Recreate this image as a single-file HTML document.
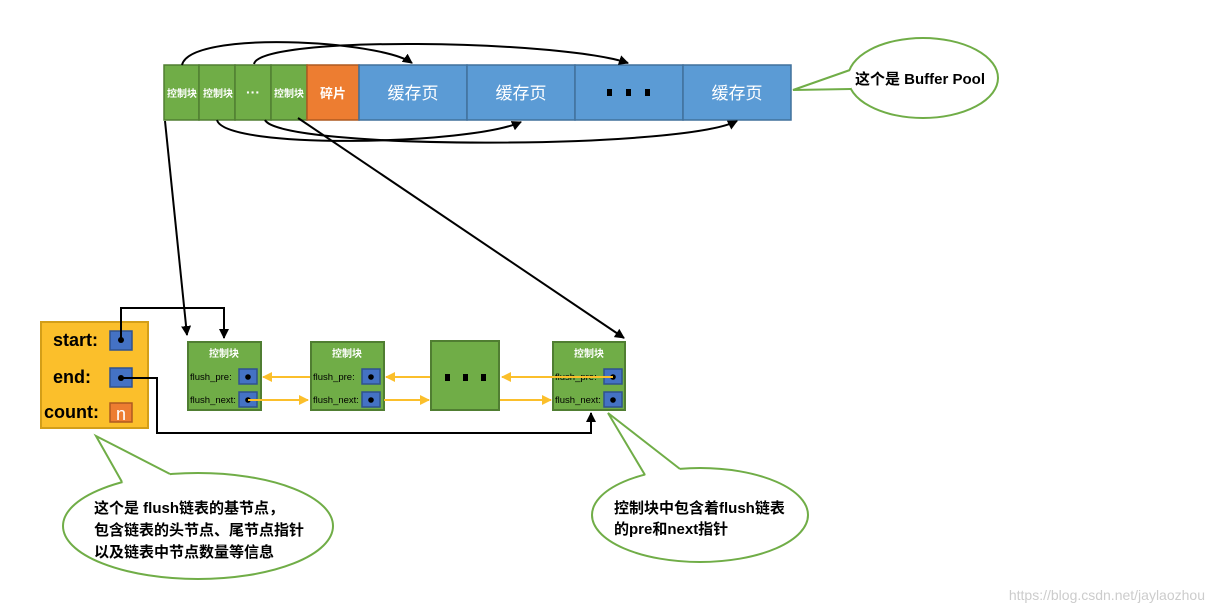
<!DOCTYPE html>
<html><head><meta charset="utf-8"><style>
body{margin:0;background:#fff;}
svg{display:block;font-family:"Liberation Sans","Noto Sans CJK SC",sans-serif;}
.w{fill:#fff;font-weight:bold;}
</style></head><body>
<svg width="1213" height="614" viewBox="0 0 1213 614" xmlns="http://www.w3.org/2000/svg">
<defs>
<marker id="ab" markerWidth="10" markerHeight="10" refX="9" refY="5" orient="auto" markerUnits="userSpaceOnUse"><path d="M0,0 L10,5 L0,10 z" fill="#000"/></marker>
<marker id="ay" markerWidth="10" markerHeight="10" refX="9" refY="5" orient="auto" markerUnits="userSpaceOnUse"><path d="M0,0 L10,5 L0,10 z" fill="#FBBF2B"/></marker>
</defs>
<!-- top bar -->
<g stroke="#41719C" stroke-width="1.5">
<rect x="164" y="65" width="35" height="55" fill="#70AD47" stroke="#507E32"/>
<rect x="199" y="65" width="36" height="55" fill="#70AD47" stroke="#507E32"/>
<rect x="235" y="65" width="36" height="55" fill="#70AD47" stroke="#507E32"/>
<rect x="271" y="65" width="36" height="55" fill="#70AD47" stroke="#507E32"/>
<rect x="307" y="65" width="52" height="55" fill="#ED7D31" stroke="#AE5A21"/>
<rect x="359" y="65" width="108" height="55" fill="#5B9BD5"/>
<rect x="467" y="65" width="108" height="55" fill="#5B9BD5"/>
<rect x="575" y="65" width="108" height="55" fill="#5B9BD5"/>
<rect x="683" y="65" width="108" height="55" fill="#5B9BD5"/>
</g>
<g class="w" font-size="10" text-anchor="middle">
<text x="182" y="97">控制块</text><text x="218" y="97">控制块</text>
<text x="253" y="97" font-size="14">···</text><text x="289" y="97">控制块</text>
</g>
<text x="333" y="98" class="w" font-size="13" text-anchor="middle">碎片</text>
<g fill="#fff" font-size="17" text-anchor="middle">
<text x="413" y="99">缓存页</text><text x="521" y="99">缓存页</text><text x="737" y="99">缓存页</text>
</g>
<g fill="#000"><rect x="607" y="89" width="5" height="7"/><rect x="626" y="89" width="5" height="7"/><rect x="645" y="89" width="5" height="7"/></g>
<!-- arcs -->
<g fill="none" stroke="#000" stroke-width="2">
<path d="M182,65 C190,30 380,40 412,63" marker-end="url(#ab)"/>
<path d="M254,64 C260,35 560,40 628,63" marker-end="url(#ab)"/>
<path d="M217,120 C225,150 470,145 521,122" marker-end="url(#ab)"/>
<path d="M265,120 C280,150 680,150 737,121" marker-end="url(#ab)"/>
<path d="M165,121 L187,335" marker-end="url(#ab)"/>
<path d="M298,118 L624,338" marker-end="url(#ab)"/>
</g>
<!-- buffer pool callout -->
<ellipse cx="923" cy="78" rx="75" ry="40" fill="#fff" stroke="#70AD47" stroke-width="2"/>
<polygon points="793,90 850,70 860,78 851,88" fill="#fff"/>
<path d="M850,70 L793,90 L851,89" fill="none" stroke="#70AD47" stroke-width="2"/>
<text x="920" y="84" font-size="15" font-weight="bold" text-anchor="middle">这个是 Buffer Pool</text>
<!-- base node -->
<rect x="41" y="322" width="107" height="106" fill="#FBBF2B" stroke="#D39E18" stroke-width="2"/>
<g font-size="18" font-weight="bold" fill="#000">
<text x="53" y="346">start:</text><text x="53" y="383">end:</text><text x="44" y="418">count:</text>
</g>
<rect x="110" y="331" width="22" height="19" fill="#4472C4" stroke="#2F528F" stroke-width="1.5"/>
<rect x="110" y="368" width="22" height="19" fill="#4472C4" stroke="#2F528F" stroke-width="1.5"/>
<rect x="110" y="403" width="22" height="19" fill="#ED7D31" stroke="#AE5A21" stroke-width="1.5"/>
<text x="121" y="420" fill="#fff" font-size="18" text-anchor="middle">n</text>
<!-- blocks -->
<g stroke="#507E32" stroke-width="2" fill="#70AD47">
<rect x="188" y="342" width="73" height="68"/><rect x="311" y="342" width="73" height="68"/>
<rect x="431" y="341" width="68" height="69"/><rect x="553" y="342" width="72" height="68"/>
</g>
<g class="w" font-size="10" text-anchor="middle">
<text x="224" y="357">控制块</text><text x="347" y="357">控制块</text><text x="589" y="357">控制块</text>
</g>
<g font-size="9.5" fill="#000">
<text x="190" y="380">flush_pre:</text><text x="190" y="403">flush_next:</text>
<text x="313" y="380">flush_pre:</text><text x="313" y="403">flush_next:</text>
<text x="555" y="380">flush_pre:</text><text x="555" y="403">flush_next:</text>
</g>
<g fill="#4472C4" stroke="#2F528F" stroke-width="1.5">
<rect x="239" y="369" width="18" height="15"/><rect x="239" y="392" width="18" height="15"/>
<rect x="362" y="369" width="18" height="15"/><rect x="362" y="392" width="18" height="15"/>
<rect x="604" y="369" width="18" height="15"/><rect x="604" y="392" width="18" height="15"/>
</g>
<g fill="#000">
<circle cx="248" cy="377" r="2.8"/><circle cx="248" cy="400" r="2.8"/>
<circle cx="371" cy="377" r="2.8"/><circle cx="371" cy="400" r="2.8"/>
<circle cx="613" cy="377" r="2.8"/><circle cx="613" cy="400" r="2.8"/>
<circle cx="121" cy="340" r="3"/><circle cx="121" cy="378" r="3"/>
<rect x="445" y="374" width="5" height="7"/><rect x="463" y="374" width="5" height="7"/><rect x="481" y="374" width="5" height="7"/>
</g>
<!-- yellow arrows -->
<g stroke="#FBBF2B" stroke-width="2" fill="none">
<path d="M310,377 L263,377" marker-end="url(#ay)"/>
<path d="M430,377 L386,377" marker-end="url(#ay)"/>
<path d="M613,377 L502,377" marker-end="url(#ay)"/>
<path d="M248,400 L308,400" marker-end="url(#ay)"/>
<path d="M384,400 L429,400" marker-end="url(#ay)"/>
<path d="M500,400 L551,400" marker-end="url(#ay)"/>
</g>
<!-- black pointers -->
<g stroke="#000" stroke-width="2" fill="none">
<path d="M121,340 L121,308 L224,308 L224,338" marker-end="url(#ab)"/>
<path d="M121,378 L157,378 L157,433 L591,433 L591,413" marker-end="url(#ab)"/>
</g>
<!-- bottom callouts -->
<ellipse cx="198" cy="526" rx="135" ry="53" fill="#fff" stroke="#70AD47" stroke-width="2"/>
<polygon points="96,436 122,482 140,495 170,485 170,474" fill="#fff"/>
<path d="M122,482 L96,436 L170,474" fill="none" stroke="#70AD47" stroke-width="2"/>
<ellipse cx="700" cy="515" rx="108" ry="47" fill="#fff" stroke="#70AD47" stroke-width="2"/>
<polygon points="608,413 645,475 660,485 680,478 680,469" fill="#fff"/>
<path d="M645,475 L608,413 L680,469" fill="none" stroke="#70AD47" stroke-width="2"/>
<g font-size="15" font-weight="bold" fill="#000">
<text x="94" y="513">这个是 flush链表的基节点，</text>
<text x="94" y="535">包含链表的头节点、尾节点指针</text>
<text x="94" y="557">以及链表中节点数量等信息</text>
<text x="614" y="513">控制块中包含着flush链表</text>
<text x="614" y="534">的pre和next指针</text>
</g>
<text x="1205" y="600" font-size="14" fill="#ccc" text-anchor="end">https://blog.csdn.net/jaylaozhou</text>
</svg>
</body></html>
